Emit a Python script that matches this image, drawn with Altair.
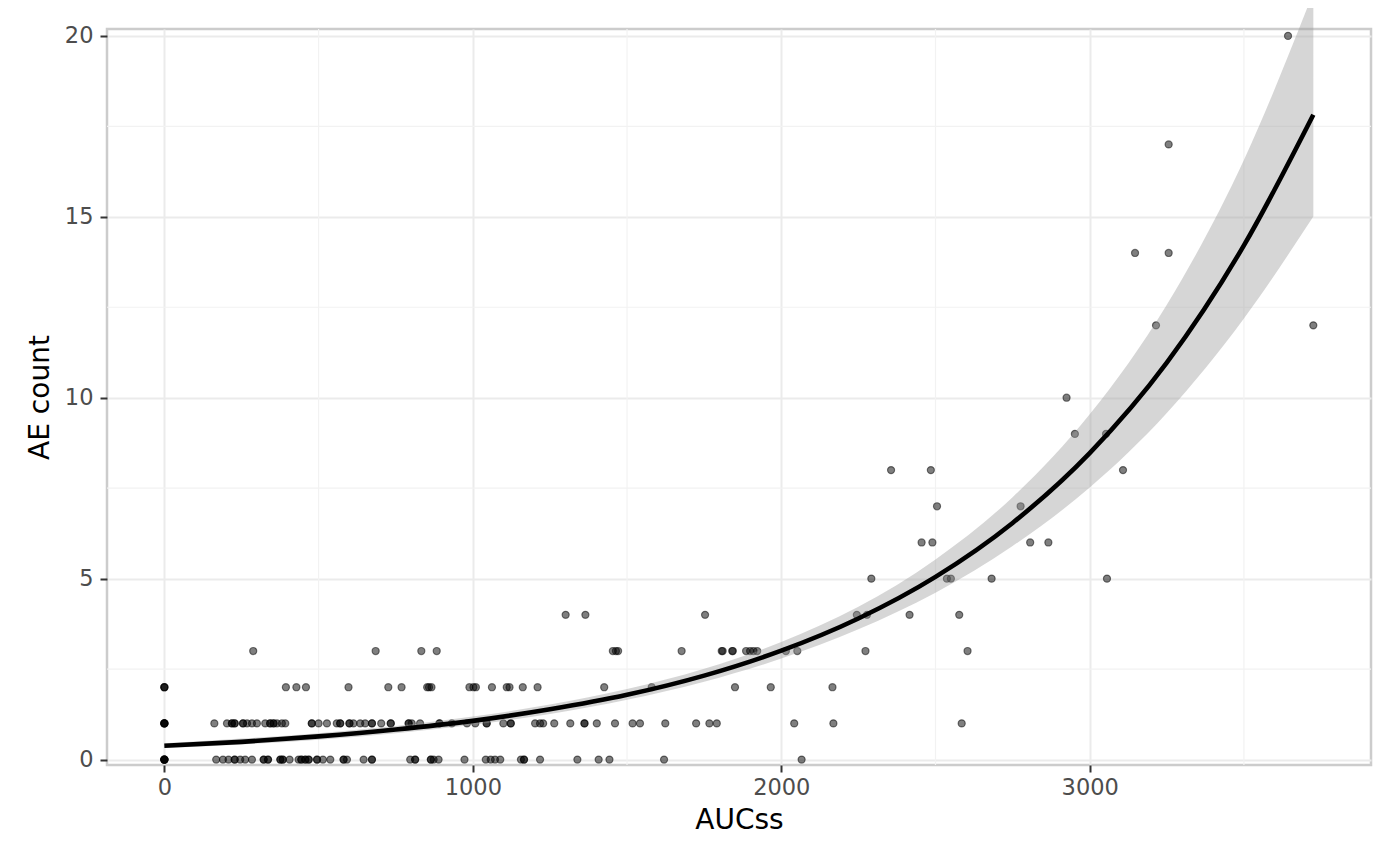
import altair as alt
import pandas as pd

# ---- data ----
# AUCss values of observations, grouped by AE count
AUC_AE0 = [0, 0, 0, 0, 0, 0, 168, 190, 208, 228, 228, 246, 262, 284, 322, 322, 336, 336,
           376, 376, 384, 384, 406, 435, 444, 444, 457, 457, 468, 468, 495, 495, 514, 538,
           581, 581, 592, 646, 673, 673, 797, 813, 813, 864, 864, 873, 889, 973, 1042,
           1058, 1072, 1089, 1156, 1166, 1166, 1218, 1339, 1408, 1443, 1620, 2066]
AUC_AE1 = [0, 0, 0, 0, 0, 162, 203, 219, 219, 228, 228, 255, 255, 268, 284, 300, 327, 343,
           343, 354, 354, 365, 381, 392, 478, 478, 500, 527, 559, 570, 570, 600, 600, 613,
           635, 651, 673, 673, 703, 734, 734, 792, 792, 802, 829, 892, 892, 932, 981, 1008,
           1045, 1045, 1099, 1123, 1123, 1202, 1218, 1228, 1264, 1316, 1362, 1362, 1402,
           1461, 1518, 1542, 1624, 1724, 1767, 1791, 2042, 2169, 2585]
AUC_AE2 = [0, 0, 0, 394, 428, 459, 597, 726, 769, 852, 858, 866, 989, 1002, 1010, 1062,
           1110, 1119, 1162, 1210, 1426, 1580, 1850, 1966, 2166]
AUC_AE3 = [288, 685, 833, 883, 1454, 1464, 1471, 1677, 1807, 1810, 1841, 1843, 1886, 1899,
           1910, 1922, 2015, 2052, 2273, 2604]
AUC_AE4 = [1301, 1365, 1753, 2245, 2278, 2416, 2577]
AUC_AE5 = [2292, 2537, 2550, 2682, 3056]
AUC_AE6 = [2455, 2490, 2807, 2866]
AUC_AE7 = [2505, 2776]
AUC_AE8 = [2356, 2485, 3108]
AUC_AE9 = [2952, 3053]
AUC_AE10 = [2925]
AUC_AE12 = [3215, 3725]
AUC_AE14 = [3147, 3256]
AUC_AE17 = [3256]
AUC_AE20 = [3643]

# fitted curve (Poisson GLM) and its confidence band
FIT_X = [0, 250, 500, 750, 1000, 1250, 1500, 1750, 2000, 2250, 2500, 2750, 3000, 3250, 3500, 3725]
FIT_Y = [0.38, 0.49, 0.64, 0.83, 1.07, 1.39, 1.79, 2.32, 3.01, 3.90, 5.05, 6.54, 8.47, 10.97, 14.21, 17.82]
FIT_LO = [0.32, 0.42, 0.55, 0.73, 0.96, 1.26, 1.65, 2.15, 2.79, 3.60, 4.61, 5.90, 7.52, 9.58, 12.19, 15.01]
FIT_HI = [0.45, 0.58, 0.73, 0.93, 1.19, 1.52, 1.95, 2.51, 3.25, 4.22, 5.53, 7.25, 9.54, 12.57, 16.57, 21.2]

X_TICKS = [0, 1000, 2000, 3000]
Y_TICKS = [0, 5, 10, 15, 20]
X_MINOR = [500, 1500, 2500, 3500]
Y_MINOR = [2.5, 7.5, 12.5, 17.5]

groups = {0: AUC_AE0, 1: AUC_AE1, 2: AUC_AE2, 3: AUC_AE3, 4: AUC_AE4, 5: AUC_AE5,
          6: AUC_AE6, 7: AUC_AE7, 8: AUC_AE8, 9: AUC_AE9, 10: AUC_AE10, 12: AUC_AE12,
          14: AUC_AE14, 17: AUC_AE17, 20: AUC_AE20}
rows = []
for ae, lst in groups.items():
    for a in lst:
        rows.append({"AUCss": a, "AE": ae})
pts = pd.DataFrame(rows)
fit = pd.DataFrame({"x": FIT_X, "fit": FIT_Y, "lo": FIT_LO, "hi": FIT_HI})

xscale = alt.Scale(domain=[-186, 3912], nice=False, zero=False)
yscale = alt.Scale(domain=[-0.15, 20.19], nice=False, zero=False)

xaxis = alt.Axis(values=X_TICKS, title="AUCss", format="d")
yaxis = alt.Axis(values=Y_TICKS, title="AE count", format="d")

minor_x = alt.Chart(pd.DataFrame({"v": X_MINOR})).mark_rule(
    color="#F2F2F2", strokeWidth=1.2
).encode(x=alt.X("v:Q", scale=xscale, axis=xaxis))

minor_y = alt.Chart(pd.DataFrame({"v": Y_MINOR})).mark_rule(
    color="#F2F2F2", strokeWidth=1.2
).encode(y=alt.Y("v:Q", scale=yscale, axis=yaxis))

points = alt.Chart(pts).mark_circle(
    size=50, color="black", fillOpacity=0.5, stroke="black", strokeOpacity=0.5,
    strokeWidth=1.2, opacity=1
).encode(
    x=alt.X("AUCss:Q", scale=xscale, axis=xaxis),
    y=alt.Y("AE:Q", scale=yscale, axis=yaxis),
)

band = alt.Chart(fit).mark_area(
    color="#999999", opacity=0.4, interpolate="monotone", clip=False
).encode(
    x=alt.X("x:Q", scale=xscale, axis=xaxis),
    y=alt.Y("lo:Q", scale=yscale, axis=yaxis),
    y2="hi:Q",
)

line = alt.Chart(fit).mark_line(
    color="black", strokeWidth=4.6, interpolate="monotone"
).encode(
    x=alt.X("x:Q", scale=xscale, axis=xaxis),
    y=alt.Y("fit:Q", scale=yscale, axis=yaxis),
)

chart = alt.layer(minor_x, minor_y, points, band, line).properties(
    width=1264, height=736,
    autosize=alt.AutoSizeParams(type="none"),
    padding={"left": 99, "top": 21, "right": 20, "bottom": 80},
).configure(
    font="DejaVu Sans",
    background="white",
).configure_view(
    stroke="#CCCCCC", strokeWidth=2.5
).configure_axis(
    domain=False,
    grid=True, gridColor="#EBEBEB", gridWidth=2,
    ticks=True, tickColor="#333333", tickWidth=2, tickSize=7,
    labelColor="#4D4D4D", labelFontSize=22.5, labelFont="DejaVu Sans",
    titleColor="black", titleFontSize=28, titleFontWeight="normal", titleFont="DejaVu Sans",
).configure_axisX(
    labelPadding=4, titlePadding=8,
).configure_axisY(
    labelPadding=7, titlePadding=10,
)

chart.save("out.html", embed_options={"renderer": "svg", "actions": False})
